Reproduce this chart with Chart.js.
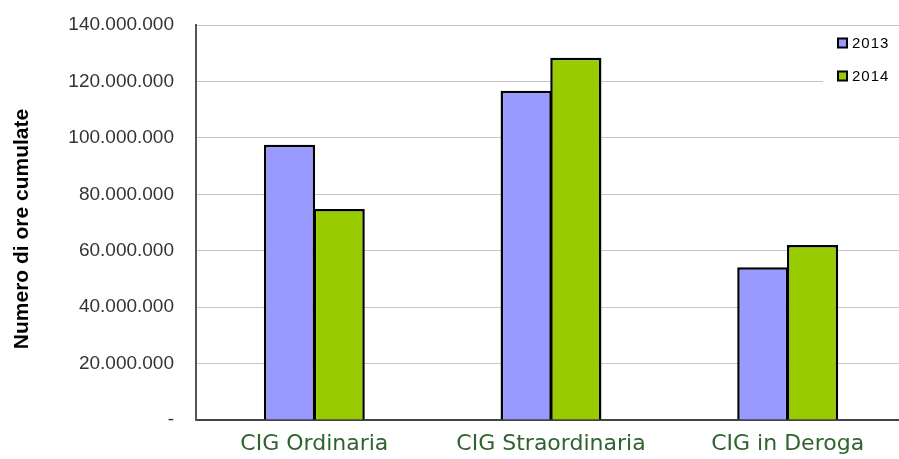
<!DOCTYPE html>
<html>
<head>
<meta charset="utf-8">
<script src="https://cdn.jsdelivr.net/npm/chart.js@4/dist/chart.umd.min.js"></script>
<style>
  html, body { margin: 0; padding: 0; background: #fff; overflow: hidden; }
  #wrap { width: 906px; height: 459px; position: relative; }
</style>
</head>
<body>
<div id="wrap"><canvas id="c"></canvas></div>
<script>
// Ore di cassa integrazione cumulate per tipologia
const categories = ['CIG Ordinaria', 'CIG Straordinaria', 'CIG in Deroga'];
const seriesNames = ['2013', '2014'];
const values2013 = [97600000, 116700000, 54100000];
const values2014 = [74800000, 128400000, 62000000];
const yTicks = [0, 20000000, 40000000, 60000000, 80000000, 100000000, 120000000, 140000000];
const axisTitle = 'Numero di ore cumulate';

const colors = ['#9999FF', '#99CC00'];

function fmt(v) {
  if (v === 0) return '-';
  return String(Math.round(v)).replace(/\B(?=(\d{3})+(?!\d))/g, '.');
}

// rotated y axis title
const axisTitlePlugin = {
  id: 'axisTitle',
  afterDraw(chart) {
    const ctx = chart.ctx;
    ctx.save();
    ctx.translate(22, 229);
    ctx.rotate(-Math.PI / 2);
    ctx.font = 'bold 21px "Liberation Sans", Arial, sans-serif';
    ctx.fillStyle = '#000';
    ctx.textAlign = 'center';
    ctx.textBaseline = 'middle';
    ctx.fillText(axisTitle, 0, 0);
    ctx.restore();
  }
};

// boxed legend in the upper right corner
const boxLegendPlugin = {
  id: 'boxLegend',
  afterDatasetsDraw(chart) {
    const ctx = chart.ctx;
    ctx.save();
    ctx.fillStyle = '#fff';
    ctx.fillRect(823, 28, 90, 66);
    ctx.font = '15px "Liberation Sans", Arial, sans-serif';
    ctx.letterSpacing = '1px';
    ctx.textBaseline = 'middle';
    ctx.textAlign = 'left';
    chart.data.datasets.forEach((ds, i) => {
      const y = 43 + i * 33;
      ctx.fillStyle = ds.backgroundColor;
      ctx.fillRect(838, y - 4.5, 9, 9);
      ctx.strokeStyle = '#000';
      ctx.lineWidth = 2;
      ctx.strokeRect(838, y - 4.5, 9, 9);
      ctx.fillStyle = '#000';
      ctx.fillText(ds.label, 852, y + 1);
    });
    ctx.restore();
  }
};

new Chart(document.getElementById('c'), {
  type: 'bar',
  data: {
    labels: categories,
    datasets: [
      { label: seriesNames[0], data: values2013, backgroundColor: colors[0], borderColor: '#000', borderWidth: 2.5, borderSkipped: 'start' },
      { label: seriesNames[1], data: values2014, backgroundColor: colors[1], borderColor: '#000', borderWidth: 2.5, borderSkipped: 'start' }
    ]
  },
  options: {
    responsive: true,
    maintainAspectRatio: false,
    animation: false,
    devicePixelRatio: 1,
    layout: { padding: { top: 25, left: 0, right: 0, bottom: 0 } },
    datasets: { bar: { categoryPercentage: 0.42, barPercentage: 1.03 } },
    plugins: {
      legend: { display: false },
      tooltip: { enabled: false }
    },
    scales: {
      x: {
        grid: { display: false, drawTicks: false },
        border: { display: true, color: '#444', width: 2 },
        ticks: {
          color: '#2f642f',
          font: { family: '"DejaVu Sans", sans-serif', size: 22 },
          padding: 11
        },
        afterFit(scale) { scale.height = 39; }
      },
      y: {
        min: 0,
        max: 140000000,
        afterBuildTicks(scale) { scale.ticks = yTicks.map(v => ({ value: v })); },
        grid: { color: '#c4c4c4', lineWidth: 1, drawTicks: false },
        border: { display: true, color: '#555', width: 2 },
        ticks: {
          color: '#333',
          font: { family: '"Liberation Sans", Arial, sans-serif', size: 19 },
          padding: 22,
          callback: (v) => fmt(v)
        },
        afterFit(scale) {
          scale.width = 196;
          scale.paddingTop = 0;
          scale.paddingBottom = 0;
        }
      }
    }
  },
  plugins: [axisTitlePlugin, boxLegendPlugin]
});
</script>
</body>
</html>
